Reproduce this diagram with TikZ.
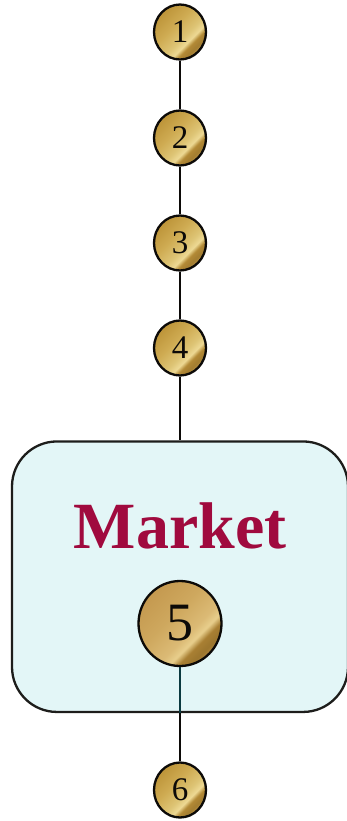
\documentclass[tikz,border=0pt]{standalone}
\usepackage{fontspec}
\setmainfont{Liberation Serif}
\usetikzlibrary{shapes.geometric}
\definecolor{boxfill}{HTML}{E3F6F7}
\definecolor{wordred}{HTML}{A00A3E}
\definecolor{inkline}{HTML}{0C0A08}
\definecolor{tealline}{HTML}{0B3A40}
\pgfdeclarehorizontalshading{coinsmall}{100bp}{
  rgb(0bp)=(0.74,0.58,0.22);
  rgb(25bp)=(0.74,0.58,0.22);
  rgb(42bp)=(0.81,0.67,0.32);
  rgb(56bp)=(0.87,0.77,0.46);
  rgb(62bp)=(0.93,0.85,0.58);
  rgb(66bp)=(0.70,0.54,0.21);
  rgb(71bp)=(0.64,0.49,0.19);
  rgb(75bp)=(0.72,0.57,0.27);
  rgb(100bp)=(0.72,0.57,0.27)}
\pgfdeclarehorizontalshading{coinlarge}{100bp}{
  rgb(0bp)=(0.77,0.60,0.31);
  rgb(25bp)=(0.77,0.60,0.31);
  rgb(44bp)=(0.81,0.66,0.37);
  rgb(58bp)=(0.86,0.73,0.46);
  rgb(63bp)=(0.91,0.81,0.55);
  rgb(67bp)=(0.66,0.50,0.20);
  rgb(72bp)=(0.61,0.46,0.18);
  rgb(75bp)=(0.68,0.52,0.24);
  rgb(100bp)=(0.68,0.52,0.24)}
\tikzset{
  coinbase/.style={ellipse, draw=inkline, line width=2.3pt, inner sep=0pt, text=inkline, shading angle=-45},
  smallcoin/.style={coinbase, shading=coinsmall, minimum width=52pt, minimum height=55pt, font=\fontsize{33}{33}\selectfont},
  largecoin/.style={coinbase, shading=coinlarge, minimum width=83pt, minimum height=85pt, font=\fontsize{54}{54}\selectfont},
  marketbox/.style={draw=inkline!92!boxfill, line width=2.3pt, fill=boxfill, rounded corners=45pt, minimum width=336pt, minimum height=270.5pt, inner sep=0pt},
  marketword/.style={text=wordred, font=\bfseries\fontsize{66}{66}\selectfont, inner sep=0pt, anchor=base},
  link/.style={draw=inkline, line width=2.5pt}
}
\begin{document}
\begin{tikzpicture}[x=1pt,y=-1pt]
\useasboundingbox (0,0) rectangle (347,821);
\node[marketbox] (market) at (180,576.7) {};
\node[marketword] (word) at (180,548) {Market};
\node[smallcoin] (one) at (180,32) {1};
\node[smallcoin] (two) at (180,138) {2};
\node[smallcoin] (three) at (180,243) {3};
\node[smallcoin] (four) at (180,348) {4};
\node[largecoin] (five) at (180,623.5) {5};
\node[smallcoin] (six) at (180,790) {6};
\draw[link] (one) -- (two);
\draw[link] (two) -- (three);
\draw[link] (three) -- (four);
\draw[link] (four) -- (market.north);
\draw[link,draw=tealline] (five) -- (market.south);
\draw[link] (market.south) -- (six);
\end{tikzpicture}
\end{document}
